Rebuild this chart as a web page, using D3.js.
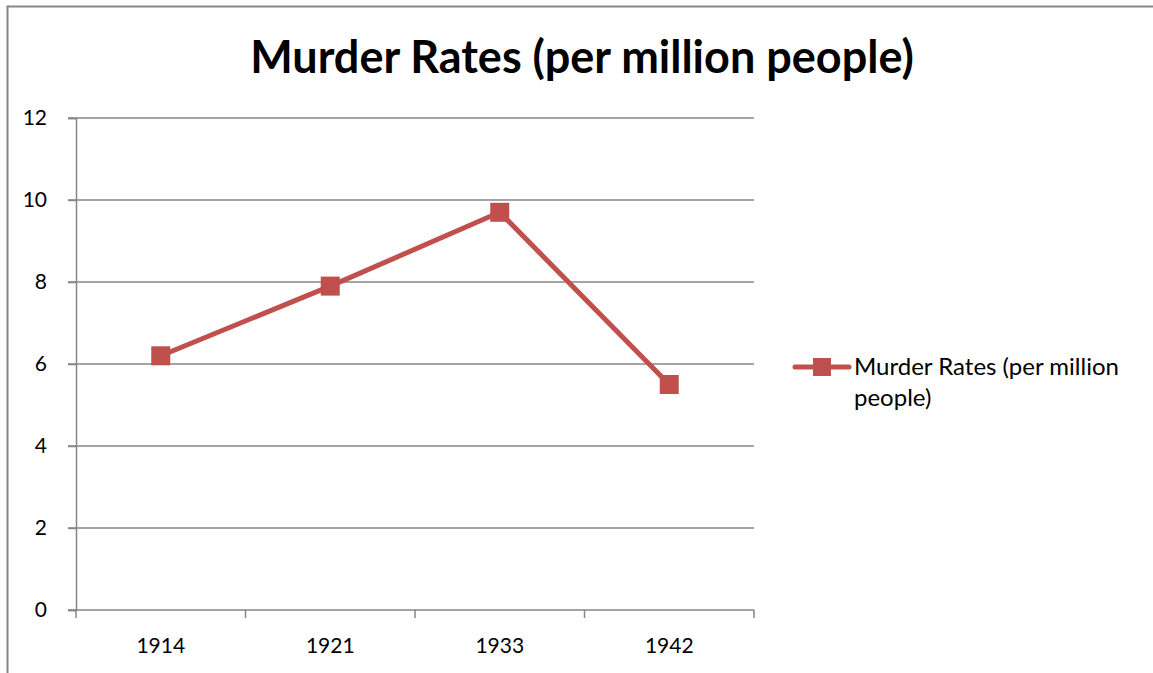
<!DOCTYPE html>
<html><head><meta charset="utf-8">
<script src="https://cdn.jsdelivr.net/npm/d3@7"></script>
<style>body{margin:0;background:#fff;} svg{display:block;}</style>
</head><body>
<script>
const categories = ["1914", "1921", "1933", "1942"];
const values = [6.2, 7.9, 9.7, 5.5];
const yTicks = [0, 2, 4, 6, 8, 10, 12];
const seriesName = "Murder Rates (per million people)";
const titleText = "Murder Rates (per million people)";

(function () {
const W = 1153, H = 673;
const font = "Lato, 'Open Sans', sans-serif";
const color = "#C0504D", grid = "#868686";
const svg = d3.select("body").append("svg").attr("width", W).attr("height", H);

svg.append("rect").attr("x", 7.5).attr("y", 6.5).attr("width", W + 20).attr("height", H + 20)
  .attr("fill", "#fff").attr("stroke", grid).attr("stroke-width", 2);

const pLeft = 76, pRight = 754, pTop = 118, pBottom = 610;
const x = d3.scaleBand().domain(categories).range([pLeft, pRight]);
const y = d3.scaleLinear().domain([0, 12]).range([pBottom, pTop]);

// gridlines
svg.append("g").selectAll("line").data(yTicks).join("line")
  .attr("x1", pLeft - 8).attr("x2", pRight).attr("y1", d => y(d)).attr("y2", d => y(d))
  .attr("stroke", grid).attr("stroke-width", 1.5);

// y axis
const yAxis = svg.append("g").attr("transform", `translate(${pLeft},0)`)
  .call(d3.axisLeft(y).tickValues(yTicks).tickSize(8).tickPadding(21));
yAxis.select(".domain").attr("stroke", grid).attr("stroke-width", 1.5);
yAxis.selectAll(".tick line").attr("stroke", grid).attr("stroke-width", 1.5);
yAxis.selectAll("text").attr("font-family", font).attr("font-size", 21).attr("fill", "#000");

// x axis
const xAxis = svg.append("g").attr("transform", `translate(0,${pBottom})`)
  .call(d3.axisBottom(x).tickSize(0).tickPadding(28));
xAxis.select(".domain").remove();
xAxis.selectAll("text").attr("font-family", font).attr("font-size", 21).attr("fill", "#000");
const bounds = categories.map(c => x(c)).concat([pRight]);
xAxis.append("g").selectAll("line").data(bounds).join("line")
  .attr("x1", d => d).attr("x2", d => d).attr("y1", 0).attr("y2", 8)
  .attr("stroke", grid).attr("stroke-width", 1.5);

// line
const cx = c => x(c) + x.bandwidth() / 2;
const data = categories.map((c, i) => ({c, v: values[i]}));
svg.append("path").datum(data)
  .attr("d", d3.line().x(d => cx(d.c)).y(d => y(d.v)))
  .attr("fill", "none").attr("stroke", color).attr("stroke-width", 5).attr("stroke-linejoin", "round").attr("stroke-linecap", "round");
const ms = 19;
svg.append("g").selectAll("rect").data(data).join("rect")
  .attr("x", d => cx(d.c) - ms / 2).attr("y", d => y(d.v) - ms / 2)
  .attr("width", ms).attr("height", ms).attr("fill", color);

// title
svg.append("text").attr("x", 582).attr("y", 73).attr("text-anchor", "middle")
  .attr("font-family", font).attr("font-weight", "bold").attr("font-size", 45).attr("fill", "#000")
  .text(titleText);

// legend
const ly = 367;
svg.append("line").attr("x1", 795).attr("x2", 849).attr("y1", ly).attr("y2", ly)
  .attr("stroke", color).attr("stroke-width", 5).attr("stroke-linecap", "round");
svg.append("rect").attr("x", 813).attr("y", ly - 9).attr("width", 18).attr("height", 18).attr("fill", color);
const words = seriesName.split(" ");
const lt = svg.append("text").attr("font-family", font).attr("font-size", 24).attr("fill", "#000");
lt.append("tspan").attr("x", 854).attr("y", 375).text(words.slice(0, 4).join(" "));
lt.append("tspan").attr("x", 854).attr("y", 406).text(words.slice(4).join(" "));
})();
</script>
</body></html>
